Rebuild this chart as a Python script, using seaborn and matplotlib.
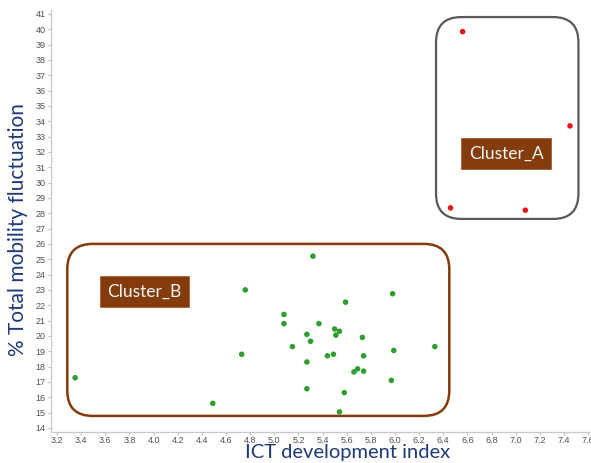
import numpy as np
import pandas as pd
import matplotlib
matplotlib.use("Agg")
import matplotlib.pyplot as plt
import seaborn as sns
from matplotlib.patches import FancyBboxPatch

# Cluster A (red points)
ict_a = [6.56, 7.45, 6.46, 7.08]
mob_a = [39.85, 33.7, 28.35, 28.2]

# Cluster B (green points)
ict_b = [3.35, 4.49, 4.73, 4.76, 5.32, 5.08, 5.08, 5.15, 5.27, 5.30,
         5.37, 5.27, 5.27, 5.44, 5.49, 5.50, 5.54, 5.51, 5.59, 5.58,
         5.54, 5.73, 5.74, 5.69, 5.66, 5.74, 5.98, 5.99, 5.97, 6.33]
mob_b = [17.27, 15.6, 18.8, 23.0, 25.2, 21.4, 20.8, 19.3, 20.1, 19.65,
         20.8, 18.3, 16.55, 18.7, 18.8, 20.45, 20.3, 20.05, 22.2, 16.3,
         15.04, 19.9, 18.7, 17.85, 17.65, 17.7, 22.75, 19.05, 17.1, 19.3]

# cluster frames: (x0, x1, y0, y1)
frame_a = (6.34, 7.52, 27.63, 40.8)
frame_b = (3.285, 6.45, 14.78, 26.0)

x_ticks = [3.2 + 0.2 * i for i in range(23)]
y_ticks = list(range(14, 42))

df = pd.DataFrame({
    "ict": ict_a + ict_b,
    "mob": mob_a + mob_b,
    "cluster": ["A"] * len(ict_a) + ["B"] * len(ict_b),
})

sns.set_style("white")
plt.rcParams["font.family"] = ["Liberation Sans", "DejaVu Sans"]

fig = plt.figure(figsize=(5.91, 4.63), dpi=100)
ax = fig.add_axes([51 / 591, 31 / 463, 540 / 591, 422 / 463])

sns.scatterplot(data=df, x="ict", y="mob", hue="cluster",
                palette={"A": "#e8141a", "B": "#2e9e2e"},
                s=16, edgecolor="none", legend=False, ax=ax, zorder=3)

ax.set_xlim(3.15, 7.624)
ax.set_ylim(13.73, 41.26)

# rounded frames around clusters (corner aspect fixed for px/unit ratio)
aspect = (1 / 15.33) / (1 / 120.7)
for (x0, x1, y0, y1), col, lw in [(frame_a, "#595959", 1.6), (frame_b, "#843c0c", 1.8)]:
    ax.add_patch(FancyBboxPatch((x0, y0), x1 - x0, y1 - y0,
                                boxstyle="round,pad=0,rounding_size=0.21",
                                mutation_aspect=aspect,
                                fill=False, edgecolor=col, linewidth=lw, zorder=2))

for label, x, y in [("Cluster_A", 6.92, 31.9), ("Cluster_B", 3.925, 22.9)]:
    ax.text(x, y, label, ha="center", va="center", color="#f5f5f5",
            fontsize=12.5, family=["Lato", "DejaVu Sans"], zorder=4,
            bbox=dict(boxstyle="square,pad=0.42", facecolor="#843c0c",
                      edgecolor="#a0603a", linewidth=0.6))

ax.set_xticks(x_ticks)
ax.set_xticklabels([f"{v:.1f}" for v in x_ticks])
ax.set_yticks(y_ticks)
ax.tick_params(axis="both", labelsize=6.5, colors="#bfbfbf", labelcolor="#505050",
               length=2, width=0.8, pad=2)
ax.tick_params(axis="x", bottom=True, pad=1)
ax.tick_params(axis="y", left=True)

for side in ["top", "right"]:
    ax.spines[side].set_visible(False)
for side in ["left", "bottom"]:
    ax.spines[side].set_color("#c8c8c8")
    ax.spines[side].set_linewidth(0.9)

ax.set_xlabel("ICT development index", fontsize=14.5, color="#1f3a7a",
              family=["Lato", "DejaVu Sans"])
ax.set_ylabel("% Total mobility fluctuation", fontsize=15, color="#1f3a7a",
              family=["Lato", "DejaVu Sans"])
ax.xaxis.set_label_coords(0.55, -0.029)
ax.yaxis.set_label_coords(-0.042, 0.48)

fig.savefig("out.png", dpi=100)
